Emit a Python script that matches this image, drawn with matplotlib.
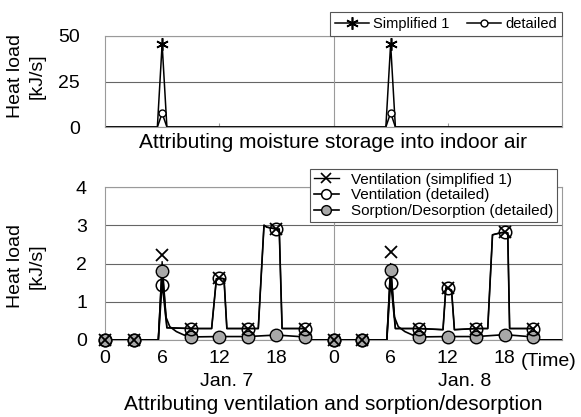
import numpy as np
import matplotlib
matplotlib.use("Agg")
import matplotlib.pyplot as plt

plt.rcParams['font.family'] = ['Liberation Sans', 'DejaVu Sans']

# --- top panel: moisture storage into indoor air (hours from Jan. 7 0:00)
top_t = [0, 5.5, 6, 6.5, 29.5, 30, 30.5, 48]
top_simp = [0, 0, 45.6, 0, 0, 45.6, 0, 0]
top_det = [0, 0, 7.6, 0, 0, 7.8, 0, 0]
top_mark_t = [6, 30]
top_mark_simp = [45.6, 45.6]
top_mark_det = [7.6, 7.8]

# --- bottom panel: ventilation and sorption/desorption
simp_t = [0, 3, 5.6, 6, 6.5, 9, 11.2, 11.7, 12, 12.5, 12.8, 15, 16.1, 16.7, 17, 18, 18.3, 18.6, 21, 21.5,
          24, 27, 29.6, 30, 30.5, 33, 35.5, 35.8, 36, 36.4, 36.7, 39, 40.2, 40.7, 41.5, 42, 42.3, 42.5, 45, 45.5, 48]
simp_v = [0, 0, 0, 2.05, 0.32, 0.3, 0.3, 1.6, 1.62, 1.6, 0.3, 0.3, 0.3, 3.0, 2.95, 2.9, 2.9, 0.3, 0.3, 0,
          0, 0, 0, 2.0, 0.3, 0.3, 0.27, 1.36, 1.36, 1.3, 0.27, 0.3, 0.3, 2.75, 2.8, 2.82, 2.8, 0.3, 0.3, 0, 0]
vdet_t = [0, 3, 5.6, 6, 6.5, 9, 11.2, 11.7, 12, 12.5, 12.8, 15, 16.1, 16.7, 17, 18, 18.3, 18.6, 21, 21.5,
          24, 27, 29.6, 30, 30.5, 33, 35.5, 35.8, 36, 36.4, 36.7, 39, 40.2, 40.7, 41.5, 42, 42.3, 42.5, 45, 45.5, 48]
vdet_v = [0, 0, 0, 1.5, 0.32, 0.3, 0.3, 1.6, 1.62, 1.6, 0.3, 0.3, 0.3, 3.0, 2.95, 2.9, 2.9, 0.3, 0.3, 0,
          0, 0, 0, 1.55, 0.3, 0.3, 0.27, 1.36, 1.36, 1.3, 0.27, 0.3, 0.3, 2.75, 2.8, 2.82, 2.8, 0.3, 0.3, 0, 0]
sorp_t = [0, 3, 5.6, 6, 6.4, 6.8, 7.5, 8.3, 9, 12, 15, 18, 21, 21.5,
          24, 27, 29.6, 30, 30.4, 30.8, 31.5, 32.3, 33, 36, 39, 42, 45, 45.5, 48]
sorp_v = [0, 0, 0, 1.85, 0.6, 0.35, 0.22, 0.13, 0.08, 0.09, 0.09, 0.13, 0.08, 0,
          0, 0, 0, 1.88, 0.6, 0.35, 0.22, 0.13, 0.08, 0.09, 0.09, 0.14, 0.08, 0, 0]

mark_t = [0, 3, 6, 9, 12, 15, 18, 21, 24, 27, 30, 33, 36, 39, 42, 45]
mark_simp = [0, 0, 2.22, 0.3, 1.62, 0.3, 2.9, 0.3, 0, 0, 2.3, 0.3, 1.36, 0.3, 2.82, 0.3]
mark_vdet = [0, 0, 1.45, 0.3, 1.62, 0.3, 2.9, 0.3, 0, 0, 1.49, 0.3, 1.36, 0.3, 2.82, 0.3]
mark_sorp = [0, 0, 1.8, 0.09, 0.09, 0.09, 0.13, 0.09, 0, 0, 1.83, 0.09, 0.09, 0.09, 0.14, 0.09]

tick_hours = [0, 6, 12, 18, 24, 30, 36, 42]
tick_labels = ["0", "6", "12", "18", "0", "6", "12", "18"]
day_labels = ["Jan. 7", "Jan. 8"]

W, H = 581, 417
fig = plt.figure(figsize=(W / 100, H / 100), dpi=100)

def box(l, t, r, b):
    return [l / W, 1 - b / H, (r - l) / W, (b - t) / H]

frame_c = '#9a9a9a'
grid_c = '#666666'
gray_fill = '#a8a8a8'

# ---------------- top
ax1 = fig.add_axes(box(105, 36, 562, 127))
ax1.set_xlim(0, 48)
ax1.set_ylim(0, 50)
ax1.set_yticks([0, 25, 50])
ax1.set_xticks([0, 12, 24, 36, 48])
ax1.set_xticklabels([])
ax1.tick_params(axis='x', direction='in', length=3, color=frame_c)
ax1.tick_params(axis='y', length=0, pad=18, labelsize=14)
ax1.grid(axis='y', color=grid_c, lw=0.8)
ax1.axvline(24, color=frame_c, lw=0.8)
for s in ax1.spines.values():
    s.set_color(frame_c)
    s.set_linewidth(0.8)

ax1.plot(top_t, top_simp, color='k', lw=1.1)
ax1.plot(top_t, top_det, color='k', lw=1.1)
ax1.plot(top_mark_t, top_mark_simp, ls='none', marker=(6, 2, 0), ms=9, mew=1.2, color='k')
ax1.plot(top_mark_t, top_mark_det, ls='none', marker='o', ms=5, mew=1.0, mfc='white', mec='k')
h1, = ax1.plot([], [], color='k', lw=1.1, marker=(6, 2, 0), ms=9, mew=1.2)
h2, = ax1.plot([], [], color='k', lw=1.1, marker='o', ms=5, mew=1.0, mfc='white', mec='k')
leg1 = ax1.legend([h1, h2], ["Simplified 1", "detailed"], ncol=2, loc='lower right',
                  bbox_to_anchor=(1, 1), borderaxespad=0, fontsize=10.5, handlelength=2.3,
                  handletextpad=0.3, columnspacing=1.2, fancybox=False, framealpha=1,
                  edgecolor='#555555', borderpad=0.35)
leg1.get_frame().set_linewidth(0.8)

fig.text(333 / W, 1 - 142 / H, "Attributing moisture storage into indoor air",
         ha='center', va='center', fontsize=15)
fig.text(26 / W, 1 - 76 / H, "Heat load\n[kJ/s]", rotation=90, ha='center', va='center',
         fontsize=14, linespacing=1.35, multialignment='center')

# ---------------- bottom
ax2 = fig.add_axes(box(105, 187, 562, 340))
ax2.set_xlim(0, 48)
ax2.set_ylim(0, 4)
ax2.set_yticks([0, 1, 2, 3, 4])
ax2.set_xticks(tick_hours)
ax2.set_xticklabels(tick_labels)
ax2.tick_params(axis='x', length=0, pad=7, labelsize=14)
ax2.tick_params(axis='y', length=0, pad=13, labelsize=14)
ax2.grid(axis='y', color=grid_c, lw=0.8)
ax2.axvline(24, color=frame_c, lw=0.8)
for s in ax2.spines.values():
    s.set_color(frame_c)
    s.set_linewidth(0.8)

ax2.plot(sorp_t, sorp_v, color='k', lw=1.2, zorder=3)
ax2.plot(vdet_t, vdet_v, color='k', lw=1.2, zorder=3)
ax2.plot(simp_t, simp_v, color='k', lw=1.0, zorder=3)
ax2.plot(mark_t, mark_sorp, ls='none', marker='o', ms=9, mew=1.0, mfc=gray_fill, mec='k',
         zorder=4, clip_on=False)
ax2.plot(mark_t, mark_vdet, ls='none', marker='o', ms=9, mew=1.1, mfc='none', mec='k',
         zorder=5, clip_on=False)
ax2.plot(mark_t, mark_simp, ls='none', marker='x', ms=9, mew=1.3, color='k',
         zorder=6, clip_on=False)

g1, = ax2.plot([], [], color='k', lw=1.0, marker='x', ms=7, mew=1.2)
g2, = ax2.plot([], [], color='k', lw=1.2, marker='o', ms=7, mew=1.1, mfc='white', mec='k')
g3, = ax2.plot([], [], color='k', lw=1.2, marker='o', ms=7, mew=1.0, mfc=gray_fill, mec='k')
leg2 = ax2.legend([g1, g2, g3], ["Ventilation (simplified 1)", "Ventilation (detailed)",
                                 "Sorption/Desorption (detailed)"],
                  loc='upper right', bbox_to_anchor=((557 - 105) / 457, (340 - 169) / 153),
                  borderaxespad=0, fontsize=11, handlelength=1.6, handletextpad=0.8,
                  labelspacing=0.1, fancybox=False, framealpha=1, edgecolor='#555555',
                  borderpad=0.25)
leg2.get_frame().set_linewidth(0.8)
leg2.set_zorder(10)

ax2.text(43.7, -0.56, "(Time)", ha='left', va='center', fontsize=14, clip_on=False)
for x, lab in zip([12.8, 37.8], day_labels):
    ax2.text(x, -1.08, lab, ha='center', va='center', fontsize=14, clip_on=False)

fig.text(333 / W, 1 - 405 / H, "Attributing ventilation and sorption/desorption",
         ha='center', va='center', fontsize=15)
fig.text(26 / W, 1 - 266 / H, "Heat load\n[kJ/s]", rotation=90, ha='center', va='center',
         fontsize=14, linespacing=1.35, multialignment='center')

fig.savefig("out.png", dpi=100)
